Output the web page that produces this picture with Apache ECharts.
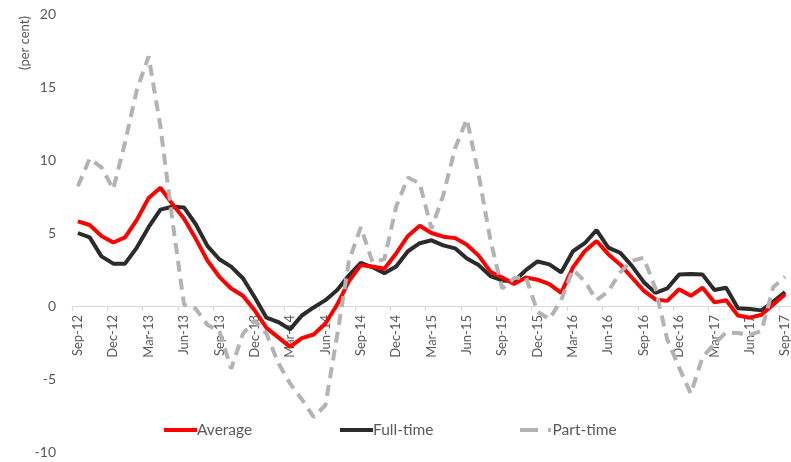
<!DOCTYPE html>
<html>
<head>
<meta charset="utf-8">
<script src="https://cdn.jsdelivr.net/npm/echarts@6/dist/echarts.min.js"></script>
<style>
html,body{margin:0;padding:0;background:#fff;}
#c{width:791px;height:462px;}
</style>
</head>
<body>
<div id="c"></div>
<script>
var categories = ['Sep-12','Oct-12','Nov-12','Dec-12','Jan-13','Feb-13','Mar-13','Apr-13','May-13','Jun-13','Jul-13','Aug-13',
'Sep-13','Oct-13','Nov-13','Dec-13','Jan-14','Feb-14','Mar-14','Apr-14','May-14','Jun-14','Jul-14','Aug-14',
'Sep-14','Oct-14','Nov-14','Dec-14','Jan-15','Feb-15','Mar-15','Apr-15','May-15','Jun-15','Jul-15','Aug-15',
'Sep-15','Oct-15','Nov-15','Dec-15','Jan-16','Feb-16','Mar-16','Apr-16','May-16','Jun-16','Jul-16','Aug-16',
'Sep-16','Oct-16','Nov-16','Dec-16','Jan-17','Feb-17','Mar-17','Apr-17','May-17','Jun-17','Jul-17','Aug-17','Sep-17'];

var average = [5.8, 5.55, 4.8, 4.35, 4.7, 5.9, 7.4, 8.1, 7.0, 6.0,
  4.6, 3.1, 2.0, 1.2, 0.7, -0.3, -1.5, -2.15, -2.8, -2.2,
  -1.95, -1.2, 0.1, 1.7, 2.8, 2.7, 2.55, 3.6, 4.8, 5.5,
  5.0, 4.75, 4.65, 4.2, 3.45, 2.35, 1.95, 1.5, 1.95, 1.8,
  1.5, 0.9, 2.65, 3.75, 4.45, 3.55, 2.85, 1.95, 1.05, 0.45,
  0.35, 1.15, 0.7, 1.25, 0.25, 0.4, -0.65, -0.8, -0.6, 0.1, 0.8];

var fullTime = [5.0, 4.7, 3.4, 2.9, 2.9, 4.0, 5.4, 6.6, 6.8, 6.75,
  5.6, 4.1, 3.2, 2.7, 1.9, 0.6, -0.8, -1.1, -1.6, -0.65,
  -0.1, 0.4, 1.1, 2.1, 2.95, 2.65, 2.25, 2.7, 3.75, 4.3,
  4.5, 4.15, 3.95, 3.25, 2.8, 2.05, 1.75, 1.7, 2.45, 3.05,
  2.85, 2.3, 3.75, 4.3, 5.2, 4.0, 3.65, 2.75, 1.65, 0.9,
  1.2, 2.15, 2.2, 2.15, 1.1, 1.25, -0.15, -0.2, -0.3, 0.3, 0.95];

var partTime = [8.2, 10.1, 9.5, 8.0, 11.2, 14.8, 17.1, 12.3, 6.0, 0.1,
  -0.2, -1.3, -1.7, -4.3, -1.9, -1.0, -1.9, -3.9, -5.3, -6.4,
  -7.6, -6.8, -2.0, 3.1, 5.4, 3.0, 3.2, 6.8, 8.8, 8.4,
  5.3, 7.6, 10.8, 12.8, 9.0, 4.5, 1.2, 1.9, 2.0, -0.4,
  -0.9, 0.4, 2.5, 1.7, 0.4, 1.0, 2.3, 3.1, 3.3, 1.2,
  -2.3, -4.2, -6.0, -3.5, -2.6, -1.8, -1.85, -2.0, -1.7, 1.3, 2.0];

var yTicks = {min: -10, max: 20, interval: 5};

var textColor = '#595959';
var fontFam = 'Lato, "Noto Sans", sans-serif';

var gridTop = 14, gridBottom = 10, chartH = 462;
var plotH = chartH - gridTop - gridBottom;
var zeroFromBottom = plotH * (0 - yTicks.min) / (yTicks.max - yTicks.min);

var chart = echarts.init(document.getElementById('c'), null, {renderer: 'canvas'});

function legendAt(name, left, icon) {
  return {
    data: [{name: name, icon: icon}], left: left, top: 422, orient: 'horizontal',
    itemWidth: 33, itemHeight: 4, itemGap: 0, padding: 0,
    textStyle: {fontSize: 15.5, color: textColor, fontFamily: fontFam, padding: [0, 0, 0, -5]}
  };
}

chart.setOption({
  animation: false,
  backgroundColor: '#ffffff',
  grid: {left: 72, right: 0, top: gridTop, bottom: gridBottom, containLabel: false, outerBoundsMode: 'none'},
  legend: [
    legendAt('Average', 164, 'rect'),
    legendAt('Full-time', 340, 'rect'),
    legendAt('Part-time', 520, 'path://M0,0h18v4h-18z M28,0h3v4h-3z M32,0h0.01v4h-0.01z')
  ],
  graphic: [{
    type: 'text', x: 25, y: 43, rotation: Math.PI / 2,
    style: {text: '(per cent)', align: 'center', verticalAlign: 'middle',
      font: '13px ' + fontFam, fill: textColor}
  }],
  xAxis: {
    type: 'category', data: categories, boundaryGap: true,
    offset: -zeroFromBottom,
    axisLine: {onZero: false, lineStyle: {color: '#d9d9d9', width: 1}},
    axisTick: {show: true, interval: 2, length: 5, lineStyle: {color: '#d9d9d9'}},
    axisLabel: {interval: 2, rotate: 90, margin: 9, fontSize: 13, color: textColor, fontFamily: fontFam},
    splitLine: {show: false}
  },
  yAxis: {
    type: 'value', min: yTicks.min, max: yTicks.max, interval: yTicks.interval,
    axisLine: {show: false}, axisTick: {show: false}, splitLine: {show: false},
    axisLabel: {margin: 16, fontSize: 14, color: textColor, fontFamily: fontFam}
  },
  series: [
    {name: 'Average', type: 'line', data: average, symbol: 'none', z: 3,
      lineStyle: {color: '#ff0000', width: 4}, itemStyle: {color: '#ff0000'}},
    {name: 'Full-time', type: 'line', data: fullTime, symbol: 'none', z: 2,
      lineStyle: {color: '#2b2b2b', width: 4}, itemStyle: {color: '#2b2b2b'}},
    {name: 'Part-time', type: 'line', data: partTime, symbol: 'none', z: 4,
      lineStyle: {color: '#b3b3b6', width: 4, type: [11, 7]}, itemStyle: {color: '#b3b3b6'}}
  ]
});
</script>
</body>
</html>
